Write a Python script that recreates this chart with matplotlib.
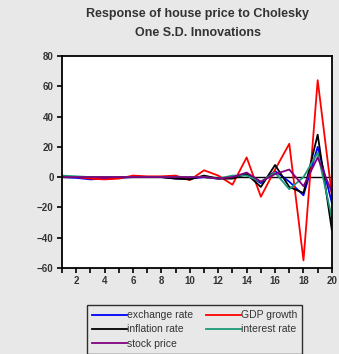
import matplotlib
matplotlib.use("Agg")
import matplotlib.pyplot as plt
import numpy as np

plt.rcParams['font.family'] = ['Liberation Sans', 'DejaVu Sans']

# impulse response horizon
periods = np.arange(1, 21)

exchange_rate = [0, -0.5, -1.5, -1, -0.5, 0, 0, 0, -1, -1,
                 0, -1, 0, 2, -4, 4, -3, -12, 20, -17]
gdp_growth = [0, 0, -1, -1.5, -1, 1, 0.5, 0.5, 1, -2,
              4.5, 1, -5, 13, -13, 5, 22, -55, 64, -12]
inflation_rate = [0, 0, 0, 0, 0, 0, 0, 0, -1, -1.5,
                  1, -1, -1, 2, -6.5, 8, -6.5, -10.5, 28, -35]
interest_rate = [1, 0.5, 0, 0, 0, 0, 0, 0, 0, 0,
                 0, -1, 1, 1, -3, 3, -8, 0, 16, -27]
stock_price = [0, 0, 0, 0, 0, 0, 0, 0, 0, 0,
               0, -1, 0, 3, -3, 2, 5, -6, 13, -10]

series = {
    "exchange rate": (exchange_rate, "#0000ff"),
    "GDP growth": (gdp_growth, "#ff0000"),
    "inflation rate": (inflation_rate, "#000000"),
    "interest rate": (interest_rate, "#1a9a78"),
    "stock price": (stock_price, "#800080"),
}

bg = "#e8e8e8"
txt = "#333333"
fig = plt.figure(figsize=(3.39, 3.54), dpi=100, facecolor=bg)
ax = fig.add_axes([0.183, 0.243, 0.796, 0.599])

ax.axhline(0, color="black", lw=1.0, zorder=1)
handles = {}
for name, (vals, col) in series.items():
    ln, = ax.plot(periods, vals, color=col, lw=1.3, label=name, zorder=2)
    handles[name] = ln

ax.set_xlim(1, 20)
ax.set_ylim(-60, 80)
ax.set_xticks(periods)
ax.set_xticklabels([str(p) if p % 2 == 0 else "" for p in periods])
ax.set_yticks(np.arange(-60, 81, 20))
ax.tick_params(axis="both", direction="out", length=3.5, width=1.2,
               labelsize=7, pad=2.5, colors="black")
for lab in ax.get_xticklabels() + ax.get_yticklabels():
    lab.set_fontweight("bold")
    lab.set_color(txt)
for sp in ax.spines.values():
    sp.set_linewidth(1.3)

fig.text(0.584, 0.96, "Response of house price to Cholesky",
         ha="center", va="center", fontsize=9, fontweight="bold", color=txt)
fig.text(0.584, 0.907, "One S.D. Innovations",
         ha="center", va="center", fontsize=9, fontweight="bold", color=txt)

# legend fills column-wise, so order entries to read row by row
order = ["exchange rate", "inflation rate", "stock price",
         "GDP growth", "interest rate"]
leg = fig.legend([handles[n] for n in order], order, ncol=2, loc="upper left",
                 bbox_to_anchor=(87 / 339, 1 - 305 / 354), frameon=True,
                 fancybox=False, edgecolor="black", facecolor=bg,
                 fontsize=7.5, handlelength=3.3, handletextpad=0.0,
                 columnspacing=1.3, borderpad=0.5, labelspacing=0.4,
                 borderaxespad=0)
leg.get_frame().set_linewidth(1.0)
for t in leg.get_texts():
    t.set_color(txt)

fig.savefig("out.png", dpi=100, facecolor=bg)
